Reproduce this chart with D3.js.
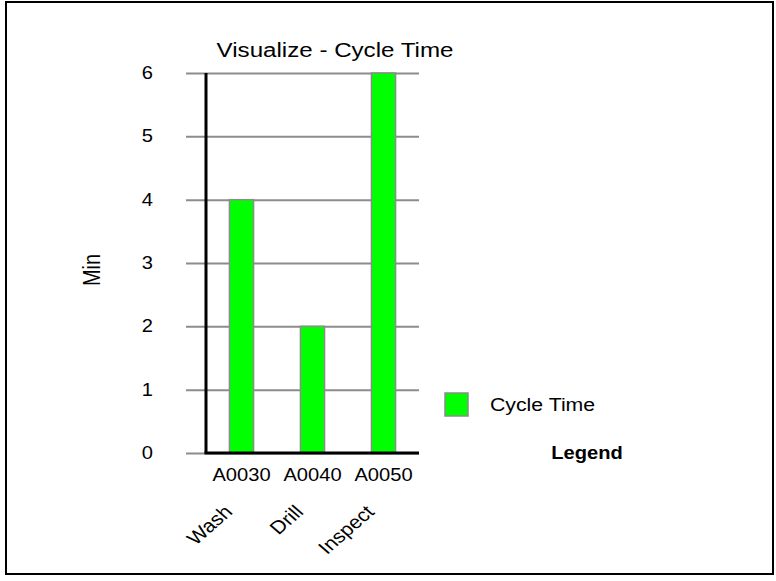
<!DOCTYPE html>
<html>
<head>
<meta charset="utf-8">
<script src="https://cdn.jsdelivr.net/npm/d3@7"></script>
<style>
  body { margin: 0; background: #fff; }
  text { font-family: "Liberation Sans", Arial, sans-serif; fill: #000; }
</style>
</head>
<body>
<svg id="chart"></svg>
<script>
// chart values
let stepCodes = ['A0030', 'A0040', 'A0050'];
let stepNames = ['Wash', 'Drill', 'Inspect'];
let cycleTimes = [4, 2, 6];
let yTicks = [0, 1, 2, 3, 4, 5, 6];
let seriesName = 'Cycle Time';

let width = 776;
let height = 581;
let stretch = 1.15;   // text in the picture is a bit wide
let fontFam = '"Liberation Sans", Arial, sans-serif';
let svg = d3.select('#chart')
  .attr('width', width)
  .attr('height', height);

let plot = {left: 206, right: 419, top: 73, bottom: 453, gridLeft: 186};

// outer frame
svg.append('rect')
  .attr('x', 6)
  .attr('y', 2)
  .attr('width', 767)
  .attr('height', 572)
  .attr('fill', 'none')
  .attr('stroke', '#000')
  .attr('stroke-width', 2);

let xScale = d3.scaleBand()
  .domain(stepCodes)
  .range([plot.left, plot.right])
  .paddingInner(0.66)
  .paddingOuter(0.33);
let yScale = d3.scaleLinear()
  .domain([0, 6])
  .range([plot.bottom, plot.top]);

// y axis with gridlines
let yAxGroup = svg.append('g')
  .attr('transform', `translate(${plot.gridLeft},0)`)
  .call(d3.axisLeft(yScale)
    .tickValues(yTicks)
    .tickFormat(d3.format('d'))
    .tickSizeInner(-(plot.right - plot.gridLeft))
    .tickSizeOuter(0)
    .tickPadding(33));
yAxGroup.select('.domain').remove();
yAxGroup.selectAll('line')
  .attr('stroke', '#8c8c8c')
  .attr('stroke-width', 2);
yAxGroup.selectAll('text')
  .attr('x', 0)
  .attr('transform', `translate(-33,0) scale(${stretch},1)`)
  .style('font-size', '17.5px')
  .style('font-family', fontFam);

// bars
svg.append('g')
  .selectAll('rect')
  .data(cycleTimes)
  .join('rect')
  .attr('x', (d, i) => xScale(stepCodes[i]))
  .attr('y', d => yScale(d))
  .attr('width', xScale.bandwidth())
  .attr('height', d => yScale(0) - yScale(d))
  .attr('fill', '#00ff00')
  .attr('stroke', '#8c8c8c')
  .attr('stroke-width', 1.5);

// black axis lines
svg.append('line')
  .attr('x1', plot.left).attr('x2', plot.left)
  .attr('y1', plot.top).attr('y2', plot.bottom)
  .attr('stroke', '#000')
  .attr('stroke-width', 3);
svg.append('line')
  .attr('x1', plot.left - 1.5).attr('x2', plot.right)
  .attr('y1', plot.bottom).attr('y2', plot.bottom)
  .attr('stroke', '#000')
  .attr('stroke-width', 3);

// category codes
let xAxGroup = svg.append('g')
  .attr('transform', `translate(0,${plot.bottom})`)
  .call(d3.axisBottom(xScale).tickSize(0).tickPadding(16));
xAxGroup.select('.domain').remove();
xAxGroup.selectAll('text')
  .attr('y', 0)
  .attr('transform', `translate(0,16) scale(${stretch},1)`)
  .style('font-size', '17.5px')
  .style('font-family', fontFam);

// rotated names
svg.append('g')
  .selectAll('text')
  .data(stepNames)
  .join('text')
  .attr('transform', (d, i) => `translate(${xScale(stepCodes[i]) + xScale.bandwidth() / 2 - 8},513) scale(${stretch},1) rotate(-45)`)
  .attr('text-anchor', 'end')
  .style('font-size', '18.5px')
  .text(d => d);

// title
svg.append('text')
  .attr('transform', `translate(335,57) scale(${stretch},1)`)
  .attr('text-anchor', 'middle')
  .style('font-size', '21px')
  .text('Visualize - Cycle Time');

// y label
svg.append('text')
  .attr('transform', `translate(100,270) scale(${stretch},1) rotate(-90)`)
  .attr('text-anchor', 'middle')
  .style('font-size', '20px')
  .text('Min');

// legend
svg.append('rect')
  .attr('x', 445)
  .attr('y', 393)
  .attr('width', 23)
  .attr('height', 23)
  .attr('fill', '#00ff00')
  .attr('stroke', '#8c8c8c')
  .attr('stroke-width', 1.5);
svg.append('text')
  .attr('transform', `translate(490,411) scale(${stretch},1)`)
  .style('font-size', '18.5px')
  .text(seriesName);
svg.append('text')
  .attr('transform', `translate(587,459) scale(${stretch},1)`)
  .attr('text-anchor', 'middle')
  .style('font-size', '17.5px')
  .style('font-weight', 'bold')
  .text('Legend');
</script>
</body>
</html>
